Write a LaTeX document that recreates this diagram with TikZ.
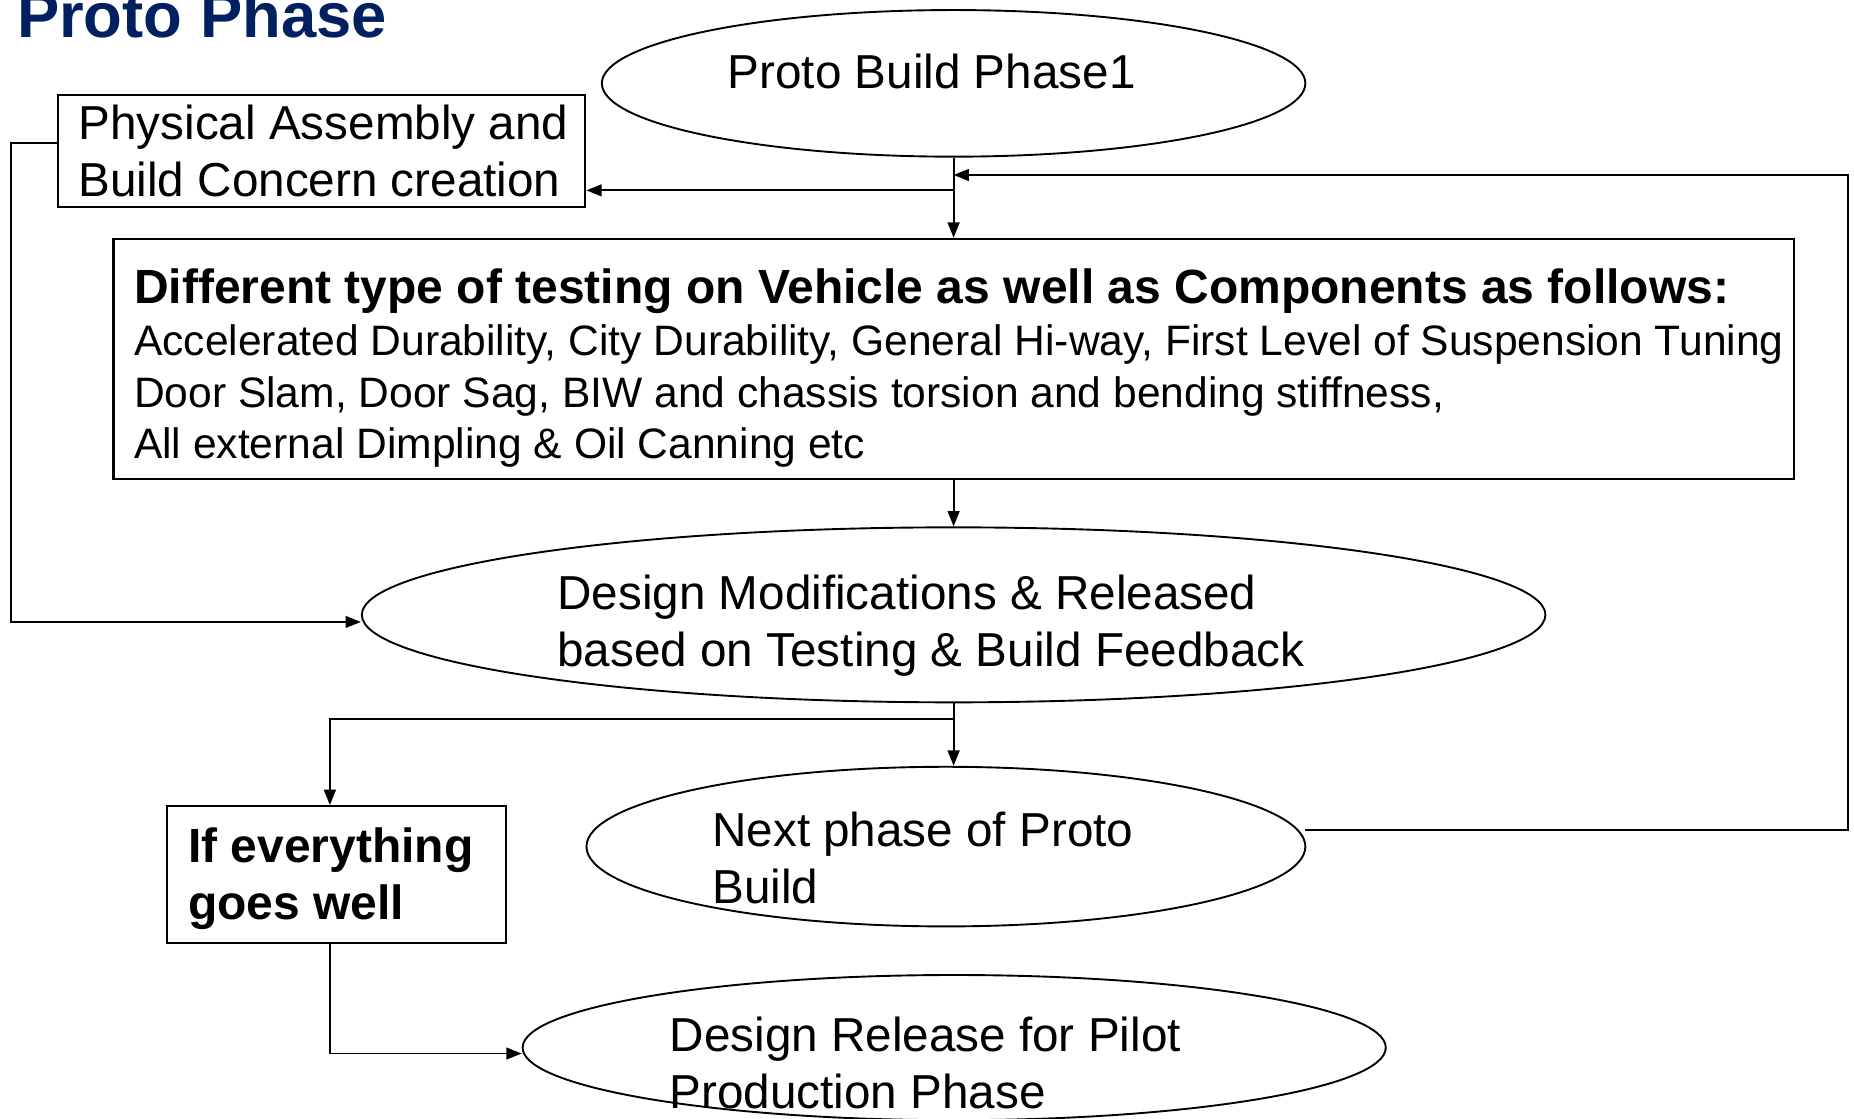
\documentclass[tikz,border=0pt]{standalone}
\usepackage{fontspec}
\setmainfont{Liberation Sans}
\usetikzlibrary{shapes.geometric,arrows.meta}
\definecolor{titleblue}{RGB}{0,32,96}
\begin{document}
\begin{tikzpicture}[x=0.5pt,y=-0.5pt,
  stepbox/.style={draw, rectangle, line width=0.9pt, inner sep=0pt},
  oval/.style={draw, ellipse, line width=0.8pt, inner sep=0pt},
  lbl/.style={anchor=base west, inner sep=0pt, font=\fontsize{20.15pt}{24pt}\selectfont},
  lblb/.style={lbl, font=\fontsize{20.3pt}{24pt}\selectfont\bfseries},
  lbls/.style={lbl, font=\fontsize{18pt}{22pt}\selectfont},
  wire/.style={line width=0.8pt},
  arr/.style={wire, -{Triangle[length=6.5pt,width=5pt]}}]
\useasboundingbox (0,0) rectangle (1568,946);

% title
\node[anchor=base west, inner sep=0pt, text=titleblue,
      font=\fontsize{26.8pt}{30pt}\selectfont\bfseries] (title) at (14,31.6) {Proto Phase};

% shapes
\node[oval, minimum width=297.5pt, minimum height=62pt] (e1) at (806.5,70.5) {};
\node[stepbox, minimum width=223pt, minimum height=47.5pt] (b1) at (272,127.5) {};
\node[stepbox, minimum width=710.5pt, minimum height=101.5pt] (b2) at (806.5,303.5) {};
\node[oval, minimum width=500.5pt, minimum height=74pt] (e2) at (806.5,520) {};
\node[oval, minimum width=304pt, minimum height=67.5pt] (e3) at (800,716) {};
\node[stepbox, minimum width=143.4pt, minimum height=58pt] (b3) at (284.6,739.8) {};
\node[oval, minimum width=365pt, minimum height=61.4pt] (e4) at (807,886) {};

% texts
\node[lbl] (t1) at (615,74.6) {Proto Build Phase1};
\node[lbl] (t2a) at (66,117.7) {Physical Assembly and};
\node[lbl] (t2b) at (66,166.5) {Build Concern creation};
\node[lblb] (t3a) at (113,257) {Different type of testing on Vehicle as well as Components as follows:};
\node[lbls] (t3b) at (113,301) {Accelerated Durability, City Durability, General Hi-way, First Level of Suspension Tuning};
\node[lbls] (t3c) at (113,344.5) {Door Slam, Door Sag, BIW and chassis torsion and bending stiffness,};
\node[lbls] (t3d) at (113,388) {All external Dimpling \& Oil Canning etc};
\node[lbl] (t4a) at (471,515.3) {Design Modifications \& Released};
\node[lbl] (t4b) at (471,563.8) {based on Testing \& Build Feedback};
\node[lbl] (t5a) at (602,716) {Next phase of Proto};
\node[lbl] (t5b) at (602,764) {Build};
\node[lblb] (t6a) at (158.6,729.6) {If everything};
\node[lblb] (t6b) at (158.6,778) {goes well};
\node[lbl] (t7a) at (566,889.4) {Design Release for Pilot};
\node[lbl] (t7b) at (566,937.4) {Production Phase};

% junctions and corners
\coordinate (j1) at (806.5,161);
\coordinate (j0) at (806.5,148);
\coordinate (fs) at (1104,702);
\coordinate (fb) at (1563,148);
\coordinate (lc) at (9,121);
\coordinate (lb) at (9,526);
\coordinate (j2) at (806.5,608);
\coordinate (k1) at (279,608);
\coordinate (k2) at (279,891);

% connectors
\draw[arr] (e1.south) -- (b2.north);
\draw[arr] (j1) -- (j1 -| b1.east);
\draw[arr] (fs) -| (fb) -- (j0);
\draw[arr] (b2.south) -- (e2.north);
\draw[arr] (lc -| b1.west) -- (lc) -- (lb) -- (lb -| e2.west);
\draw[arr] (e2.south) -- (e2.south |- e3.north);
\draw[arr] (j2) -- (k1) -- (k1 |- b3.north);
\draw[arr] (k1 |- b3.south) -- (k2) -- (k2 -| e4.west);
\end{tikzpicture}
\end{document}
